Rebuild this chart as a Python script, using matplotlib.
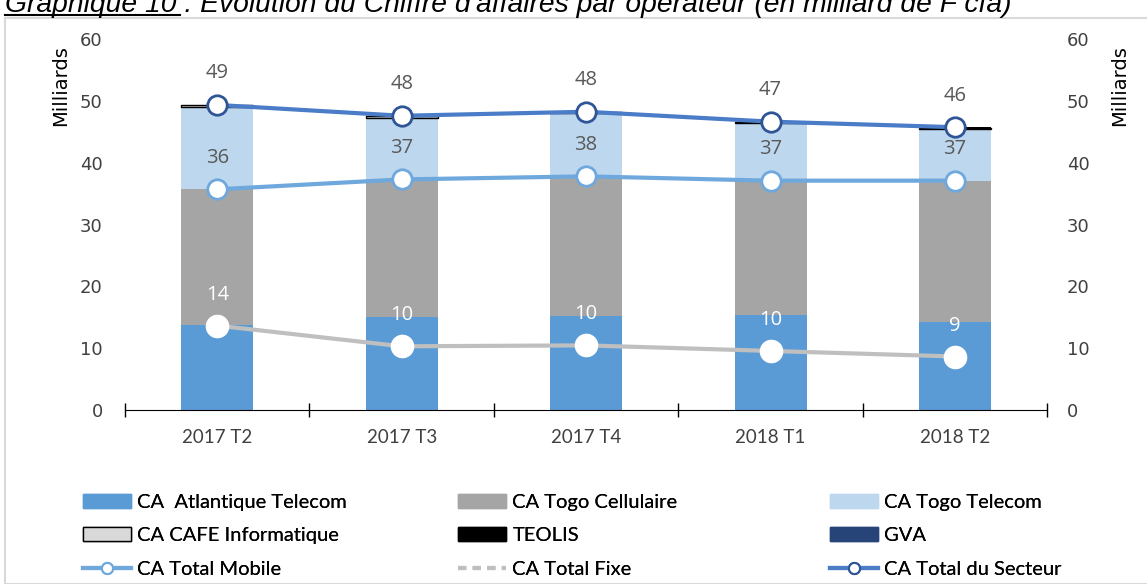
import numpy as np
import matplotlib.pyplot as plt
from matplotlib.lines import Line2D
from matplotlib.patches import Rectangle

periods = ['2017 T2', '2017 T3', '2017 T4', '2018 T1', '2018 T2']
atlantique = [13.8, 15.1, 15.2, 15.4, 14.2]
togo_cell = [21.9, 22.2, 22.6, 21.7, 22.9]
togo_telecom = [13.3, 10.0, 10.2, 9.3, 8.3]
cafe = [0.3, 0.25, 0.2, 0.2, 0.3]
teolis = [0.03, 0.03, 0.03, 0.03, 0.03]
gva = [0.02, 0.02, 0.02, 0.02, 0.02]

mobile = np.array(atlantique) + np.array(togo_cell)
fixe = np.array(togo_telecom) + np.array(cafe) + np.array(teolis) + np.array(gva)
total = mobile + fixe

fig = plt.figure(figsize=(11.47, 5.84), dpi=100)
ax = fig.add_axes([0.109, 0.298, 0.804, 0.635])
x = np.arange(len(periods))
w = 0.39

c_atl = '#5b9bd5'
c_cell = '#a5a5a5'
c_tt = '#bdd7ee'
c_cafe = '#d9d9d9'
c_teo = '#000000'
c_gva = '#264478'

b = np.zeros(len(x))
ax.bar(x, atlantique, w, bottom=b, color=c_atl, zorder=2)
b += atlantique
ax.bar(x, togo_cell, w, bottom=b, color=c_cell, zorder=2)
b += togo_cell
ax.bar(x, togo_telecom, w, bottom=b, color=c_tt, zorder=2)
b += togo_telecom
ax.bar(x, cafe, w, bottom=b, color=c_cafe, edgecolor='black', linewidth=1, zorder=2)
b += cafe
ax.bar(x, teolis, w, bottom=b, color=c_teo, zorder=2)
b += teolis
ax.bar(x, gva, w, bottom=b, color=c_gva, zorder=2)

ax.plot(x, mobile, color='#6fa8dc', lw=3, marker='o', ms=14, mfc='white',
        mec='#6fa8dc', mew=2, zorder=4)
ax.plot(x, fixe, color='#bfbfbf', lw=3, marker='o', ms=16, mfc='white',
        mec='white', mew=1, zorder=4)
ax.plot(x, total, color='#4a7cc7', lw=3, marker='o', ms=14, mfc='white',
        mec='#2f5597', mew=2, zorder=5)

lab = dict(ha='center', va='center', fontsize=14.5, family='Open Sans')
for i in range(len(x)):
    ax.text(x[i], total[i] + 5.1, f'{total[i]:.0f}', color='#595959', **lab)
    ax.text(x[i], mobile[i] + 5.1, f'{mobile[i]:.0f}', color='#595959', **lab)
    ax.text(x[i], fixe[i] + 5.0, f'{fixe[i]:.0f}', color='white', **lab)

ax.set_xlim(-0.5, len(x) - 0.5)
ax.set_ylim(0, 60)
ax.set_yticks(range(0, 61, 10))
ax.set_xticks(x)
ax.set_xticklabels(periods, family='Lato', fontsize=13.5, color='#404040')
ax.set_xticks(np.arange(-0.5, len(x), 1), minor=True)
ax.tick_params(axis='x', which='major', length=0, pad=14)
ax.tick_params(axis='x', which='minor', length=10, direction='inout', width=1)
for s in ['top', 'left', 'right']:
    ax.spines[s].set_visible(False)

ax2 = ax.twinx()
ax2.set_ylim(0, 60)
ax2.set_yticks(range(0, 61, 10))
for s in ['top', 'left', 'right', 'bottom']:
    ax2.spines[s].set_visible(False)

ax.tick_params(axis='y', length=0, labelsize=13, labelcolor='#404040', pad=16)
ax2.tick_params(axis='y', length=0, labelsize=13, labelcolor='#404040', pad=14)

ax.set_ylabel('Milliards', fontsize=14)
ax.yaxis.set_label_coords(-0.060, 0.876)
ax2.set_ylabel('Milliards', fontsize=14, rotation=90)
ax2.yaxis.set_label_coords(1.068, 0.876)

handles = [
    Rectangle((0, 0), 1, 1, color=c_atl),
    Rectangle((0, 0), 1, 1, color=c_cell),
    Rectangle((0, 0), 1, 1, color=c_tt),
    Rectangle((0, 0), 1, 1, facecolor=c_cafe, edgecolor='black', lw=1),
    Rectangle((0, 0), 1, 1, color=c_teo),
    Rectangle((0, 0), 1, 1, color=c_gva),
    Line2D([], [], color='#6fa8dc', lw=3, marker='o', ms=8, mfc='white', mec='#6fa8dc', mew=1.5),
    Line2D([], [], color='#bfbfbf', lw=3, ls=(0, (2, 1.5))),
    Line2D([], [], color='#4a7cc7', lw=3, marker='o', ms=8, mfc='white', mec='#2f5597', mew=1.5),
]
labels = ['CA  Atlantique Telecom', 'CA Togo Cellulaire', 'CA Togo Telecom',
          'CA CAFE Informatique', 'TEOLIS', 'GVA',
          'CA Total Mobile', 'CA Total Fixe', 'CA Total du Secteur']
# one legend per column so each column sits where the reference has it
col_x = [75, 450, 822]
for c in range(3):
    idx = [c, c + 3, c + 6]
    leg = fig.legend([handles[i] for i in idx], [labels[i] for i in idx],
                     loc='upper left', bbox_to_anchor=(col_x[c] / 1147, 1 - 486 / 584),
                     frameon=False, prop={'family': 'Lato', 'size': 14.5},
                     handlelength=2.4, handleheight=0.7, labelspacing=0.8,
                     handletextpad=0.3, borderaxespad=0)
    fig.add_artist(leg)

fig.patches.append(Rectangle((5 / 1147, 0), 1, 1 - 18 / 584, transform=fig.transFigure,
                             fill=False, edgecolor='#d9d9d9', lw=1.5))
fig.text(5 / 1147, 1 - 12 / 584, "Graphique 10 : Evolution du Chiffre d'affaires par opérateur (en milliard de F cfa)",
         fontsize=20.3, style='italic', family='Liberation Sans', va='baseline', ha='left')
fig.add_artist(Line2D([5 / 1147, 180 / 1147], [1 - 14.5 / 584] * 2, transform=fig.transFigure,
                      color='black', lw=1.5))

fig.savefig('out.png', dpi=100)
